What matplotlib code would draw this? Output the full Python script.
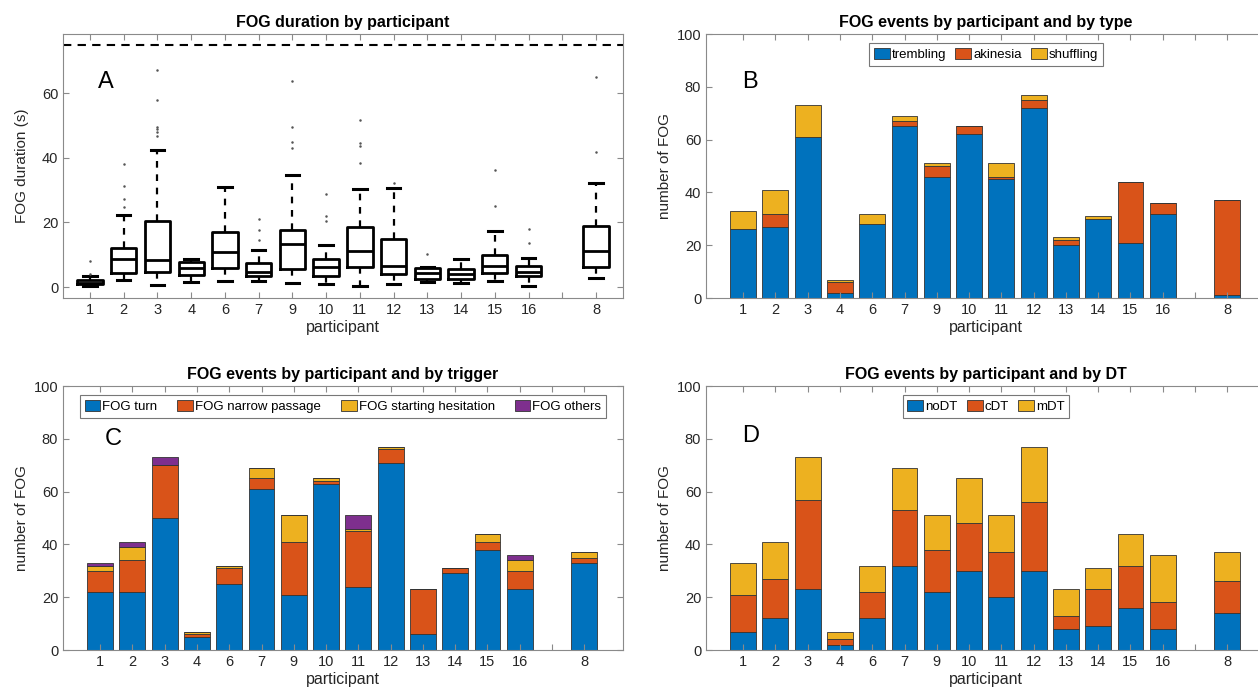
import numpy as np
import matplotlib.pyplot as plt

plt.rcParams['font.family'] = ['Liberation Sans', 'DejaVu Sans']

# participants in plotted order (8 is shown apart on the right)
participants = ['1', '2', '3', '4', '6', '7', '9', '10', '11', '12', '13', '14', '15', '16', '8']

# FOG duration box statistics (s)
dur_q1 = [0.9, 4.5, 4.8, 3.6, 5.8, 3.4, 5.7, 3.3, 6.3, 3.9, 2.6, 2.6, 4.5, 3.3, 6.2]
dur_med = [1.4, 8.6, 8.4, 5.9, 10.7, 4.8, 13.3, 6.1, 11.1, 6.6, 4.2, 4.1, 6.6, 4.8, 11.3]
dur_q3 = [2.2, 12.0, 20.4, 7.9, 16.9, 7.3, 17.8, 8.6, 18.6, 15.0, 5.9, 5.5, 9.8, 6.6, 18.9]
dur_lo = [0.3, 2.1, 0.7, 1.7, 1.8, 1.8, 1.1, 1.0, 0.4, 0.8, 1.7, 1.3, 1.9, 0.4, 2.7]
dur_hi = [3.5, 22.3, 42.5, 8.6, 30.9, 11.6, 34.8, 13.0, 30.4, 30.6, 6.2, 8.6, 17.3, 9.1, 32.3]
dur_out = [[3.9, 8.0], [24.7, 27.4, 31.3, 38.1], [46.8, 47.9, 49.0, 49.5, 58.0, 67.1], [], [],
           [14.5, 17.6, 21.2], [43.2, 44.8, 49.5, 63.7], [20.6, 22.1, 28.8],
           [38.3, 43.8, 44.5, 51.9], [32.2], [10.3], [], [25.1, 36.3], [13.6, 18.0], [41.7, 65.2]]
dur_limit = 75

# FOG events by type
trembling = [26, 27, 61, 2, 28, 65, 46, 62, 45, 72, 20, 30, 21, 32, 1]
akinesia = [0, 5, 0, 4, 0, 2, 4, 3, 1, 3, 2, 0, 23, 4, 36]
shuffling = [7, 9, 12, 1, 4, 2, 1, 0, 5, 2, 1, 1, 0, 0, 0]

# FOG events by trigger
trig_turn = [22, 22, 50, 5, 25, 61, 21, 63, 24, 71, 6, 29, 38, 23, 33]
trig_narrow = [8, 12, 20, 1, 6, 4, 20, 1, 21, 5, 17, 2, 3, 7, 2]
trig_start = [2, 5, 0, 1, 1, 4, 10, 1, 1, 1, 0, 0, 3, 4, 2]
trig_other = [1, 2, 3, 0, 0, 0, 0, 0, 5, 0, 0, 0, 0, 2, 0]

# FOG events by dual task
no_dt = [7, 12, 23, 2, 12, 32, 22, 30, 20, 30, 8, 9, 16, 8, 14]
c_dt = [14, 15, 34, 2, 10, 21, 16, 18, 17, 26, 5, 14, 16, 10, 12]
m_dt = [12, 14, 16, 3, 10, 16, 13, 17, 14, 21, 10, 8, 12, 18, 11]

colors = ['#0072BD', '#D95319', '#EDB120', '#7E2F8E']
pos = np.r_[np.arange(1, 15), 16]
tick_pos = np.arange(1, 17)
tick_lab = participants[:14] + [''] + participants[14:]

fig = plt.figure(figsize=(12.58, 6.88), dpi=100)
W, H = 1258, 688


def make_ax(left, top, width=560, height=264):
    return fig.add_axes([left / W, 1 - (top + height) / H, width / W, height / H])


def style(ax):
    for s in ax.spines.values():
        s.set_color('#8a8a8a')
        s.set_linewidth(0.8)
    ax.tick_params(direction='in', top=True, right=True, colors='#8a8a8a',
                   labelcolor='#262626', labelsize=10.5, length=4)
    ax.set_xticks(tick_pos)
    ax.set_xticklabels(tick_lab)
    ax.set_xlabel('participant', fontsize=11.5, color='#262626', labelpad=2)


def stacked(ax, series, names, ncol, colsp):
    bottom = np.zeros(len(pos))
    for vals, c, n in zip(series, colors, names):
        ax.bar(pos, vals, 0.8, bottom=bottom, color=c, edgecolor='#333333',
               linewidth=0.6, label=n)
        bottom += np.array(vals)
    ax.set_ylim(0, 100)
    ax.set_yticks(np.arange(0, 101, 20))
    ax.set_xlim(-0.15, 17.2)
    ax.set_ylabel('number of FOG', fontsize=11, color='#262626', labelpad=3)
    leg = ax.legend(loc='upper center', bbox_to_anchor=(0.5, 0.975), ncol=ncol,
                    fontsize=9.5, frameon=True, fancybox=False, edgecolor='#555555',
                    handlelength=1.2, handleheight=0.9, handletextpad=0.15,
                    columnspacing=colsp, borderpad=0.35, borderaxespad=0.2)
    leg.get_frame().set_linewidth(0.8)
    style(ax)


# A: duration boxplots
axA = make_ax(63, 34)
stats = []
for i in range(len(participants)):
    stats.append(dict(q1=dur_q1[i], med=dur_med[i], q3=dur_q3[i],
                      whislo=dur_lo[i], whishi=dur_hi[i], fliers=dur_out[i]))
axA.bxp(stats, positions=pos, widths=0.75, capwidths=0.4, showfliers=True,
        boxprops=dict(color='black', linewidth=2),
        medianprops=dict(color='black', linewidth=2),
        whiskerprops=dict(color='black', linewidth=1.6, linestyle=(0, (3, 3))),
        capprops=dict(color='black', linewidth=2.2),
        flierprops=dict(marker='.', markersize=1.6, markerfacecolor='#555555',
                        markeredgecolor='#555555', linestyle='none'))
axA.axhline(dur_limit, color='black', linewidth=1.5, linestyle=(0, (4, 3)))
axA.set_xlim(0.2, 16.8)
axA.set_ylim(-3.4, 78.4)
axA.set_yticks([0, 20, 40, 60])
axA.set_ylabel('FOG duration (s)', fontsize=11, color='#262626', labelpad=9)
axA.set_title('FOG duration by participant', fontsize=11.5, fontweight='bold', pad=5)
style(axA)
axA.text(0.063, 0.82, 'A', transform=axA.transAxes, fontsize=17, ha='left', va='center')

# B: by type
axB = make_ax(706, 34)
stacked(axB, [trembling, akinesia, shuffling], ['trembling', 'akinesia', 'shuffling'], 3, 0.7)
axB.set_title('FOG events by participant and by type', fontsize=11.5, fontweight='bold', pad=5)
axB.text(0.065, 0.82, 'B', transform=axB.transAxes, fontsize=17, ha='left', va='center')

# C: by trigger
axC = make_ax(63, 386)
stacked(axC, [trig_turn, trig_narrow, trig_start, trig_other],
        ['FOG turn', 'FOG narrow passage', 'FOG starting hesitation', 'FOG others'], 4, 1.5)
axC.set_title('FOG events by participant and by trigger', fontsize=11.5, fontweight='bold', pad=5)
axC.text(0.075, 0.8, 'C', transform=axC.transAxes, fontsize=17, ha='left', va='center')

# D: by dual task
axD = make_ax(706, 386)
stacked(axD, [no_dt, c_dt, m_dt], ['noDT', 'cDT', 'mDT'], 3, 0.7)
axD.set_title('FOG events by participant and by DT', fontsize=11.5, fontweight='bold', pad=5)
axD.text(0.065, 0.81, 'D', transform=axD.transAxes, fontsize=17, ha='left', va='center')

fig.savefig('out.png', dpi=100)
